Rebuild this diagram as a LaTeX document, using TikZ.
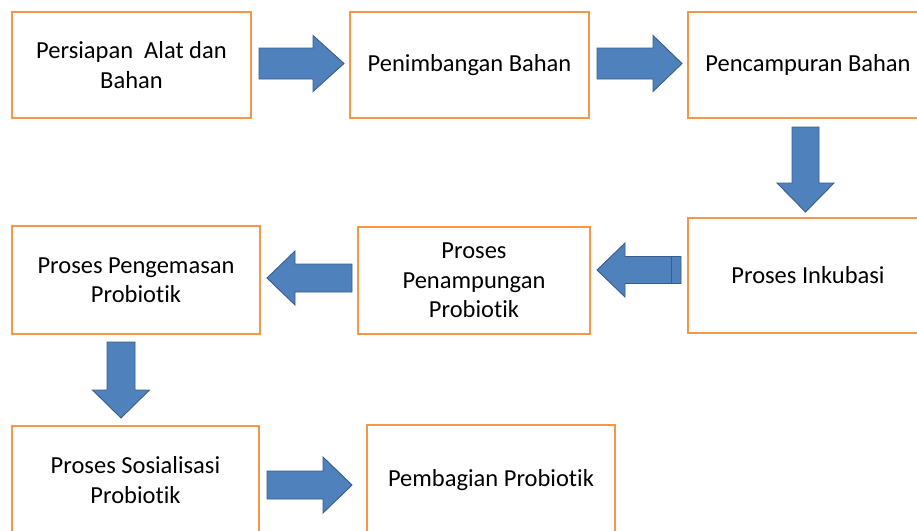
\documentclass[tikz,border=0pt]{standalone}
\usepackage{fontspec}
\setmainfont{Carlito}[Ligatures={NoCommon}]
\definecolor{boxorange}{HTML}{F79646}
\definecolor{arrowfill}{HTML}{4F81BD}
\definecolor{arrowline}{HTML}{385D8A}
\tikzset{
  stepbox/.style={draw=boxorange, line width=2.5pt, fill=white, inner sep=0pt,
    align=center, font=\fontsize{24.5}{29.5}\selectfont, text=black},
  blockarrow/.style={fill=arrowfill, draw=arrowline, line width=0.9pt, line join=miter},
  pics/blkarrow/.style args={#1/#2/#3/#4}{code={
    \draw[blockarrow] (0,#3)--(#1-#2,#3)--(#1-#2,#4)--(#1,0)--(#1-#2,-#4)--(#1-#2,-#3)--(0,-#3)--cycle;
  }}
}
\begin{document}
\begin{tikzpicture}[x=1pt,y=-1pt]
\useasboundingbox (0,0) rectangle (917,530);
\clip (0,0) rectangle (917,530);
% boxes
\node[stepbox, minimum width=239pt, minimum height=106pt] (b1) at (131.5,65) {Persiapan\ \ Alat dan\\Bahan};
\node[stepbox, minimum width=239pt, minimum height=106pt] (b2) at (469.5,65) {Penimbangan Bahan};
\node[stepbox, minimum width=240pt, minimum height=106pt] (b3) at (808,65) {Pencampuran Bahan};
\node[stepbox, minimum width=240pt, minimum height=115pt] (b4) at (808,275.5) {Proses Inkubasi};
\node[stepbox, minimum width=232pt, minimum height=107pt] (b5) at (474,280.5) {Proses\\Penampungan\\Probiotik};
\node[stepbox, minimum width=248pt, minimum height=108pt] (b6) at (136,280) {Proses Pengemasan\\Probiotik};
\node[stepbox, minimum width=247pt, minimum height=108pt] (b7) at (135.5,480) {Proses Sosialisasi\\Probiotik};
\node[stepbox, minimum width=248pt, minimum height=110pt] (b8) at (491,480) {Pembagian Probiotik};
% arrow tails
\coordinate (a1) at (259,63.5);
\coordinate (a2) at (597,63.5);
\coordinate (a3) at (805.5,127);
\coordinate (a4) at (681,270);
\coordinate (a5) at (352,278);
\coordinate (a6) at (121,342);
\coordinate (a7) at (267,485);
% block arrows
\pic at (a1) {blkarrow={85/31/15.5/28}};
\pic at (a2) {blkarrow={85/29/15.5/28}};
\pic[rotate=-90] at (a3) {blkarrow={85/29/13.5/28.5}};
\pic[rotate=180] at (a4) {blkarrow={84/28/13.5/27}};
\draw[arrowline, line width=0.9pt] ([xshift=-10pt,yshift=13.5pt]a4) -- ([xshift=-10pt,yshift=-13.5pt]a4);
\pic[rotate=180] at (a5) {blkarrow={85/28/14/27}};
\pic[rotate=-90] at (a6) {blkarrow={76/28/14/28.5}};
\pic at (a7) {blkarrow={85/29/14/28}};
\end{tikzpicture}
\end{document}
